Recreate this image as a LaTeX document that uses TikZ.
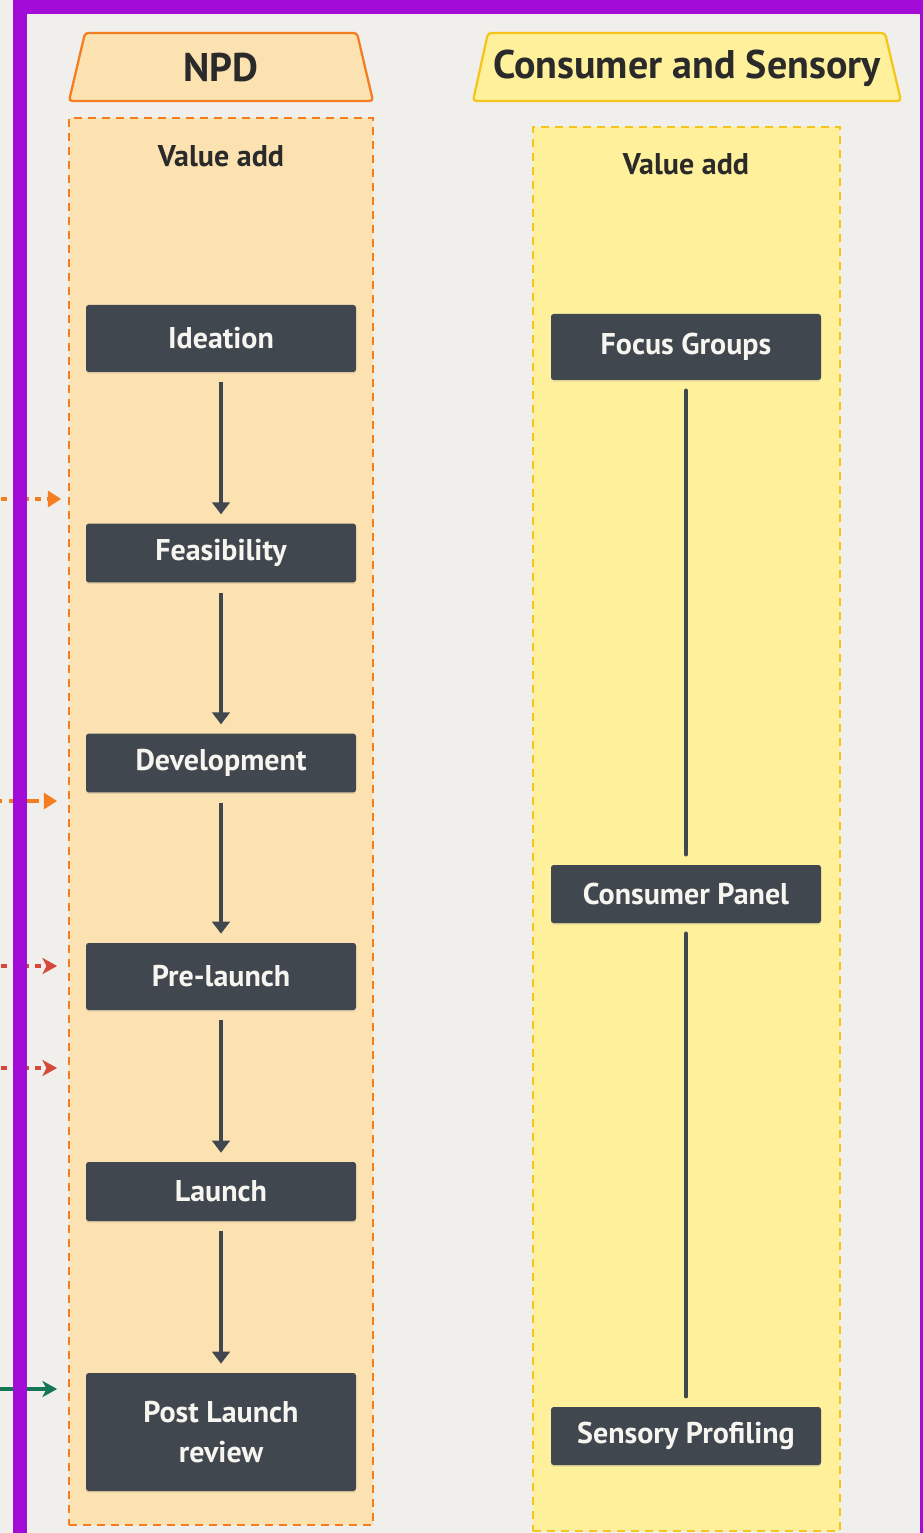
\documentclass[tikz,border=0pt]{standalone}
\usepackage{fontspec}
\setmainfont{PT Sans}
\usetikzlibrary{arrows.meta,shadows}

\definecolor{bg}{HTML}{F0EFEB}
\definecolor{frame}{HTML}{A30CD6}
\definecolor{npdline}{HTML}{F47D22}
\definecolor{npdfill}{HTML}{FDE2B1}
\definecolor{csline}{HTML}{F6C51B}
\definecolor{csfill}{HTML}{FFF09C}
\definecolor{stagefill}{HTML}{41474E}
\definecolor{stagetext}{HTML}{F6F5F0}
\definecolor{ink}{HTML}{2A2A2A}
\definecolor{redlink}{HTML}{D5483A}
\definecolor{greenlink}{HTML}{167457}

\begin{document}
\begin{tikzpicture}[x=0.75pt,y=-0.75pt,
  hdrtext/.style={font=\bfseries\fontsize{30}{36}\selectfont, text=ink, inner sep=0pt},
  subtext/.style={font=\bfseries\fontsize{22.5}{27}\selectfont, text=ink, inner sep=0pt},
  stage/.style={fill=stagefill, text=stagetext, rounded corners=2pt,
    font=\bfseries\fontsize{22.5}{29.5}\selectfont, align=center,
    minimum width=202.5pt, inner sep=0pt,
    drop shadow={shadow xshift=0pt, shadow yshift=-1.2pt, opacity=0.22}},
  colbox/.style={line width=1.8pt, dash pattern=on 6pt off 4.5pt, inner sep=0pt},
  flow/.style={draw=stagefill, line width=2.6pt,
    -{Triangle[length=9pt,width=13pt]}, shorten <=7.5pt, shorten >=6.75pt},
  tie/.style={draw=stagefill, line width=2.6pt, line cap=round,
    shorten <=7.5pt, shorten >=7.5pt},
  feed/.style={line width=3.3pt, shorten >=6pt},
]
\useasboundingbox (0,0) rectangle (923,1533);
\clip (0,0) rectangle (923,1533);
\fill[bg] (0,0) rectangle (923,1533);

% column headers
\draw[fill=npdfill, draw=npdline, line width=1.7pt, rounded corners=2.5pt]
  (85,33) -- (357,33) -- (373,101) -- (69,101) -- cycle;
\node[hdrtext] (npd) at (221,68) {NPD};
\draw[fill=csfill, draw=csline, line width=1.7pt, rounded corners=2.5pt]
  (488,33) -- (885,33) -- (901,101) -- (473,101) -- cycle;
\node[hdrtext] (cs) at (687,68) {Consumer and Sensory};

% column bodies
\node[colbox, fill=npdfill, draw=npdline, minimum width=228pt, minimum height=1055.25pt]
  (npdcol) at (221,821.5) {};
\node[colbox, fill=csfill, draw=csline, minimum width=230.25pt, minimum height=1053pt]
  (cscol) at (686.5,829) {};
\node[subtext] (npdva) at (221,156) {Value add};
\node[subtext] (csva) at (686,164) {Value add};

% NPD stages
\node[stage, minimum height=50.25pt] (ideation) at (221,338.5) {Ideation};
\node[stage, minimum height=44pt] (feas) at (221,553) {Feasibility};
\node[stage, minimum height=44pt] (dev) at (221,763) {Development};
\node[stage, minimum height=50.25pt] (prelaunch) at (221,976.5) {Pre-launch};
\node[stage, minimum height=44.25pt] (launch) at (221,1191.5) {Launch};
\node[stage, minimum height=88.5pt] (review) at (221,1432) {Post Launch\\review};

\draw[flow] (ideation) -- (feas);
\draw[flow] (feas) -- (dev);
\draw[flow] (dev) -- (prelaunch);
\draw[flow] (prelaunch) -- (launch);
\draw[flow] (launch) -- (review);

% consumer and sensory activities
\node[stage, minimum height=49.5pt] (focus) at (686,347) {Focus Groups};
\node[stage, minimum height=43.5pt] (panel) at (686,894) {Consumer Panel};
\node[stage, minimum height=43.5pt] (profiling) at (686,1436) {Sensory Profiling};

\draw[tie] (focus) -- (panel);
\draw[tie] (panel) -- (profiling);

% links arriving from the left
\coordinate (in1) at (-10,499);
\coordinate (in2) at (-10,801);
\coordinate (in3) at (-10,966);
\coordinate (in4) at (-10,1068);
\coordinate (in5) at (-10,1389);
\draw[feed, draw=npdline, dash pattern=on 4pt off 4.5pt, shorten >=5pt,
  -{Triangle[length=10pt,width=12pt]}] (in1) -- (in1 -| npdcol.west);
\draw[feed, draw=npdline, dash pattern=on 9pt off 5pt, shorten >=8pt,
  -{Triangle[length=10pt,width=12pt]}] (in2) -- (in2 -| npdcol.west);
\draw[feed, draw=redlink, dash pattern=on 4pt off 4.5pt, shorten >=8pt,
  -{Stealth[length=11pt,width=12pt,inset=3pt]}] (in3) -- (in3 -| npdcol.west);
\draw[feed, draw=redlink, dash pattern=on 4pt off 4.5pt, shorten >=8pt,
  -{Stealth[length=11pt,width=12pt,inset=3pt]}] (in4) -- (in4 -| npdcol.west);
\draw[feed, draw=greenlink, shorten >=8pt,
  -{Stealth[length=11pt,width=12pt,inset=3pt]}] (in5) -- (in5 -| npdcol.west);

% outer frame
\draw[frame, line width=10.5pt] (20,7) rectangle (927,1600);
\end{tikzpicture}
\end{document}
